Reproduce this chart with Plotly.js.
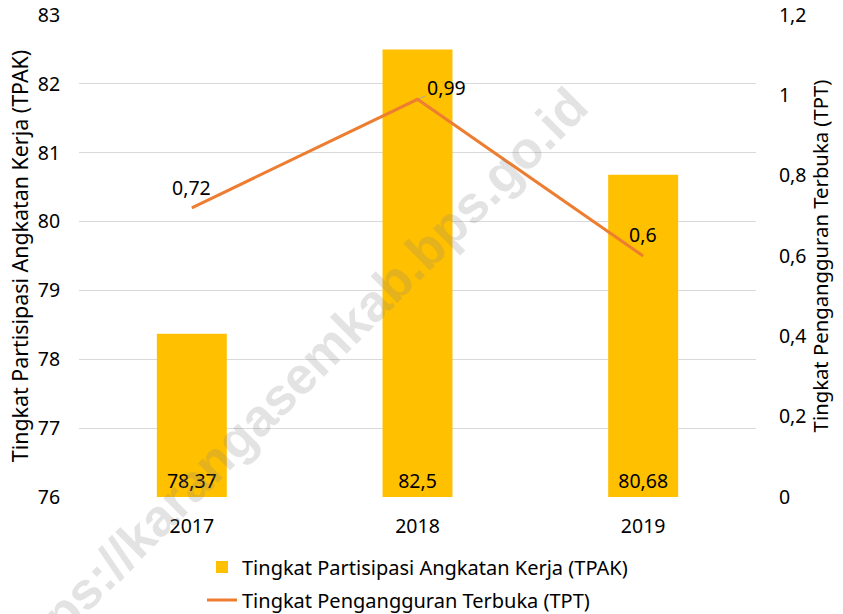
<!DOCTYPE html>
<html>
<head>
<meta charset="utf-8">
<script src="https://cdn.plot.ly/plotly-3.0.1.min.js"></script>
<style>html,body{margin:0;padding:0;background:#fff;}#chart{width:843px;height:614px;}</style>
</head>
<body>
<div id="chart"></div>
<script>
const years = ['2017', '2018', '2019'];
const tpak = [78.37, 82.5, 80.68];
const tpt = [0.72, 0.99, 0.6];
const tpakName = 'Tingkat Partisipasi Angkatan Kerja (TPAK)';
const tptName = 'Tingkat Pengangguran Terbuka (TPT)';
const leftTitle = 'Tingkat Partisipasi Angkatan Kerja (TPAK)';
const rightTitle = 'Tingkat Pengangguran Terbuka (TPT)';
const watermark = 'https://karangasemkab.bps.go.id';

const FONT = 'Noto Sans, Open Sans, sans-serif';
const FS = 19.5;
const AXIS_MIN = 76;

const barTrace = {
  type: 'bar', x: years, y: tpak.map(v => v - AXIS_MIN), base: AXIS_MIN, name: tpakName,
  legendgroup: 'a',
  marker: {color: '#FFC000'},
  width: 0.31,
  text: tpak.map(v => String(v).replace('.', ',')),
  texttemplate: '%{text}',
  textposition: 'inside', insidetextanchor: 'start', textangle: 0,
  textfont: {family: FONT, size: FS, color: '#000'},
  hoverinfo: 'skip'
};

const lineTrace = {
  type: 'scatter', mode: 'lines', x: years, y: tpt, name: tptName,
  legendgroup: 'b',
  yaxis: 'y2',
  line: {color: '#ED7D31', width: 3},
  hoverinfo: 'skip'
};

// [xshift, yshift(up), leader line]
const lineLabelOffsets = [[0, 20, false], [29, 12, true], [0, 22, false]];
const annotations = tpt.map((v, i) => {
  const o = lineLabelOffsets[i];
  const a = {
    x: i, y: v, xref: 'x', yref: 'y2',
    text: String(v).replace('.', ','),
    font: {family: FONT, size: FS, color: '#000'},
    xanchor: 'center', yanchor: 'middle'
  };
  if (o[2]) {
    Object.assign(a, {showarrow: true, arrowhead: 0, arrowwidth: 1, arrowcolor: '#a6a6a6',
      ax: o[0], ay: -o[1], standoff: 2});
  } else {
    Object.assign(a, {showarrow: false, xshift: o[0], yshift: o[1]});
  }
  return a;
});
annotations.push({
  xref: 'paper', yref: 'paper', x: 0.313, y: 0.235, xanchor: 'center', yanchor: 'middle',
  text: '<b>' + watermark + '</b>', showarrow: false, textangle: -45,
  font: {family: 'Liberation Sans, Arial, sans-serif', size: 52, color: 'rgba(128,128,128,0.22)'}
});

const layout = {
  width: 843, height: 614,
  margin: {l: 79, r: 87, t: 15, b: 117, autoexpand: false},
  paper_bgcolor: '#fff', plot_bgcolor: '#fff',
  separators: ',.',
  font: {family: FONT, size: FS, color: '#000'},
  showlegend: true,
  legend: {orientation: 'v', x: 0.5, xanchor: 'center', y: -0.105, yanchor: 'top',
    font: {family: FONT, size: 20, color: '#000'}, tracegroupgap: 4},
  xaxis: {type: 'category', range: [-0.5, 2.5], showgrid: false, zeroline: false, showline: false,
    ticks: 'outside', ticklen: 12, tickcolor: 'rgba(0,0,0,0)',
    tickfont: {family: FONT, size: FS, color: '#000'}},
  yaxis: {range: [76, 83], dtick: 1,
    showgrid: true, gridcolor: '#d9d9d9', gridwidth: 1, zeroline: false, showline: false,
    ticks: 'outside', ticklen: 14, tickcolor: 'rgba(0,0,0,0)',
    tickfont: {family: FONT, size: FS, color: '#000'},
    title: {text: leftTitle, font: {family: FONT, size: 21.4, color: '#000'}, standoff: 3}},
  yaxis2: {range: [0, 1.2], dtick: 0.2, overlaying: 'y', side: 'right',
    showgrid: false, zeroline: false, showline: false,
    ticks: 'outside', ticklen: 18, tickcolor: 'rgba(0,0,0,0)',
    tickfont: {family: FONT, size: FS, color: '#000'},
    title: {text: rightTitle, font: {family: FONT, size: 20.3, color: '#000'}, standoff: 7}},
  annotations: annotations
};

Plotly.newPlot('chart', [barTrace, lineTrace], layout, {displayModeBar: false, staticPlot: true});
</script>
</body>
</html>
